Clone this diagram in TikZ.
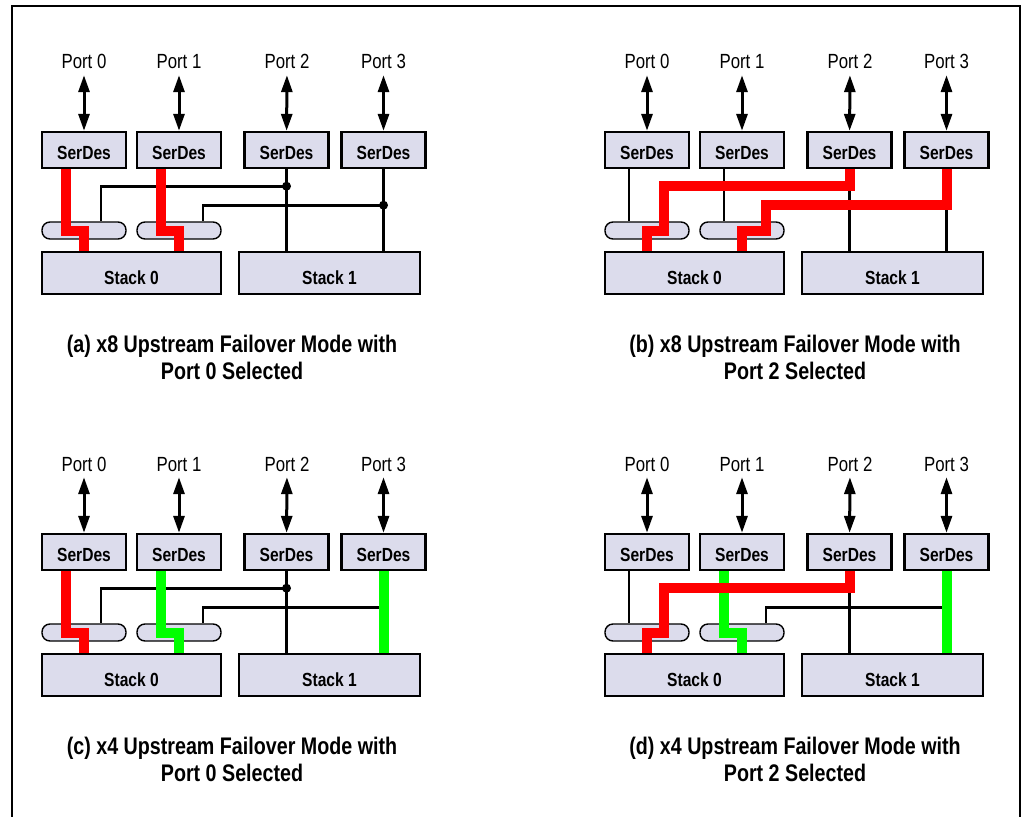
\documentclass[tikz,border=0pt]{standalone}
\usepackage{fontspec}
\setmainfont{Liberation Sans}[FakeStretch=0.82]
\usetikzlibrary{arrows.meta}
\definecolor{boxfill}{RGB}{220,220,236}
\definecolor{selred}{RGB}{255,0,0}
\definecolor{selgreen}{RGB}{0,255,0}

\begin{document}
\begin{tikzpicture}[x=1pt, y=-1pt,
  sdbox/.style={draw, line width=2.4pt, fill=boxfill, minimum width=84pt, minimum height=36pt, inner sep=0pt, text height=18.6pt, text depth=0pt, font=\fontsize{19}{22}\selectfont\bfseries},
  stackbox/.style={draw, line width=2.4pt, fill=boxfill, minimum height=42pt, inner sep=0pt, text height=22pt, text depth=0pt, font=\fontsize{19}{22}\selectfont\bfseries},
  muxbox/.style={draw, line width=1.4pt, fill=boxfill, rounded corners=8pt, minimum width=84pt, minimum height=17pt, inner sep=0pt},
  portlabel/.style={inner sep=1pt, text height=15pt, text depth=5pt, font=\fontsize{20.5}{24}\selectfont},
  caption/.style={align=center, font=\fontsize{24}{27}\selectfont\bfseries},
  portarrow/.style={{Triangle[length=17pt,width=11pt]}-{Triangle[length=17pt,width=11pt]}, line width=3pt},
  wire/.style={line width=2.7pt},
  sel/.style={line width=10pt}
]
  \useasboundingbox (0,0) rectangle (1022,816);
  \draw[line width=2.2pt] (12,830) -- (12,6) -- (1020,6) -- (1020,830);

  % the four panels share boxes, ports and captions
  \foreach \p/\dx/\dy/\mode/\num in {a/0/0/x8/0, b/563/0/x8/2, c/0/402/x4/0, d/563/402/x4/2}{
    \begin{scope}[shift={(\dx,\dy)}]
      \node[sdbox] (\p-sd0) at (84,150) {SerDes};
      \node[sdbox] (\p-sd1) at (179,150) {SerDes};
      \node[sdbox] (\p-sd2) at (286.5,150) {SerDes};
      \node[sdbox] (\p-sd3) at (383.5,150) {SerDes};
      \node[portlabel] (\p-pt0) at (84,64) {Port 0};
      \node[portlabel] (\p-pt1) at (179,64) {Port 1};
      \node[portlabel] (\p-pt2) at (287,64) {Port 2};
      \node[portlabel] (\p-pt3) at (383.5,64) {Port 3};
      \node[muxbox] (\p-mx0) at (84,230.5) {};
      \node[muxbox] (\p-mx1) at (179,230.5) {};
      \node[stackbox, minimum width=179pt] (\p-st0) at (131.5,273) {Stack 0};
      \node[stackbox, minimum width=181pt] (\p-st1) at (329.5,273) {Stack 1};
      \node[caption] (\p-cap) at (232,357.5) {(\p) \mode\ Upstream Failover Mode with\\Port \num\ Selected};
      \foreach \i in {0,...,3}
        \draw[portarrow] (\p-pt\i) -- (\p-sd\i);
      \coordinate (\p-h0) at ([yshift=-17pt]\p-sd2.south);
      \coordinate (\p-h1) at ([yshift=-36pt]\p-sd3.south);
      \coordinate (\p-t0) at ([xshift=17pt]\p-mx0.north);
      \coordinate (\p-t1) at ([xshift=24pt]\p-mx1.north);
      \coordinate (\p-i0) at ([xshift=-18pt]\p-sd0.south);
      \coordinate (\p-i1) at ([xshift=-18pt]\p-sd1.south);
    \end{scope}
  }

  % (a)
  \draw[wire] (a-sd2.south) -- (a-sd2.south |- a-st1.north);
  \draw[wire] (a-sd3.south) -- (a-sd3.south |- a-st1.north);
  \draw[wire] (a-h0) -| (a-t0);
  \draw[wire] (a-h1) -| (a-t1);
  \fill (a-h0) circle (4.5pt);
  \fill (a-h1) circle (4.5pt);
  \draw[sel, selred] (a-i0) |- (a-mx0.center) -- (a-mx0.center |- a-st0.north);
  \draw[sel, selred] (a-i1) |- (a-mx1.center) -- (a-mx1.center |- a-st0.north);

  % (b)
  \draw[wire] (b-i0) -- (b-i0 |- b-mx0.north);
  \draw[wire] (b-i1) -- (b-i1 |- b-mx1.north);
  \draw[wire] (b-sd2.south) -- (b-sd2.south |- b-st1.north);
  \draw[wire] (b-sd3.south) -- (b-sd3.south |- b-st1.north);
  \draw[sel, selred] (b-sd2.south) |- (b-t0 |- b-h0) -- (b-t0 |- b-mx0.center) -| (b-mx0.center |- b-st0.north);
  \draw[sel, selred] (b-sd3.south) |- (b-t1 |- b-h1) -- (b-t1 |- b-mx1.center) -| (b-mx1.center |- b-st0.north);

  % (c)
  \draw[wire] (c-sd2.south) -- (c-sd2.south |- c-st1.north);
  \draw[wire] (c-h0) -| (c-t0);
  \draw[wire] (c-h1) -| (c-t1);
  \fill (c-h0) circle (4.5pt);
  \draw[sel, selred] (c-i0) |- (c-mx0.center) -- (c-mx0.center |- c-st0.north);
  \draw[sel, selgreen] (c-i1) |- (c-mx1.center) -- (c-mx1.center |- c-st0.north);
  \draw[sel, selgreen] (c-sd3.south) -- (c-sd3.south |- c-st1.north);

  % (d)
  \draw[wire] (d-i0) -- (d-i0 |- d-mx0.north);
  \draw[wire] (d-sd2.south) -- (d-sd2.south |- d-st1.north);
  \draw[wire] (d-h1) -| (d-t1);
  \draw[sel, selgreen] (d-i1) |- (d-mx1.center) -- (d-mx1.center |- d-st0.north);
  \draw[sel, selgreen] (d-sd3.south) -- (d-sd3.south |- d-st1.north);
  \draw[sel, selred] (d-sd2.south) |- (d-t0 |- d-h0) -- (d-t0 |- d-mx0.center) -| (d-mx0.center |- d-st0.north);
\end{tikzpicture}
\end{document}
